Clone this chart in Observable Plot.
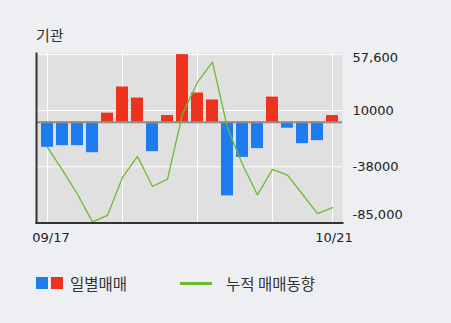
<!DOCTYPE html>
<html>
<head>
<meta charset="utf-8">
<script src="https://cdn.jsdelivr.net/npm/d3@7"></script>
<script src="https://cdn.jsdelivr.net/npm/@observablehq/plot@0.6"></script>
<style>
  html, body { margin: 0; padding: 0; background: #eeeff3; }
  #wrap { position: relative; width: 451px; height: 323px; background: #eeeff3; overflow: hidden; }
  #title { position: absolute; left: 36px; top: 25px; font: 15px "Noto Sans CJK KR", sans-serif; color: #333; line-height: 20px; }
  #chart { position: absolute; left: 0; top: 0; }
  #legend { position: absolute; left: 0; top: 273px; width: 451px; height: 20px; font: 15.5px "Noto Sans CJK KR", sans-serif; color: #333; }
  .sw { position: absolute; top: 4px; width: 12px; height: 12px; }
  .lt { position: absolute; top: 0; line-height: 20px; }
  .ln { position: absolute; top: 9px; width: 32px; height: 3px; }
</style>
</head>
<body>
<div id="wrap">
  <div id="title">기관</div>
  <div id="chart"></div>
  <div id="legend"></div>
</div>
<script>
const titleText = "기관";
const dates = ["09/17","09/23","09/24","09/27","09/28","09/29","09/30","10/01","10/05","10/06",
               "10/07","10/08","10/12","10/13","10/14","10/15","10/18","10/19","10/20","10/21"];
const daily = [-21400,-20000,-20000,-26000,7700,30000,20600,-25100,5700,57600,
               24900,18900,-62800,-30000,-22500,21400,-5100,-18300,-15700,5700];
const cumulative = [-21400,-40800,-61400,-85000,-79400,-47100,-29100,-54800,-48500,7000,
                    34100,51200,-5000,-36000,-62000,-40200,-45100,-61400,-78000,-72800];
const yTickValues = [57600, 10000, -38000, -85000];
const yTickLabels = ["57,600", "10000", "-38000", "-85,000"];
const gridValues = [57600, 10000, -38000];
const gridDates = ["09/17","09/29","10/07","10/15","10/21"];
const xTickLabels = ["09/17", "10/21"];
const legendLabels = ["일별매매", "누적 매매동향"];

const RED = "#ee321e", BLUE = "#1f7cee", GREEN = "#6cbb30";

const rows = dates.map((d, i) => ({date: d, daily: daily[i], cum: cumulative[i]}));
const yt = yTickValues.map((v, i) => ({v, label: yTickLabels[i]}));

const chart = Plot.plot({
  width: 451,
  height: 260,
  marginLeft: 36,
  marginRight: 109,
  marginTop: 53,
  marginBottom: 37.4,
  style: {background: "transparent", fontFamily: "DejaVu Sans, sans-serif", fontSize: "13px", color: "#222"},
  x: {type: "band", domain: dates, paddingInner: 0.18, paddingOuter: 0.29, align: 0.58, axis: null},
  y: {domain: [-86000, 58570], axis: null},
  marks: [
    Plot.frame({fill: "#e0e0e0", stroke: null}),
    Plot.ruleY(gridValues, {stroke: "white", strokeWidth: 1}),
    Plot.ruleX(gridDates, {stroke: "white", strokeWidth: 1}),
    Plot.barY(rows, {x: "date", y: "daily", fill: d => d.daily >= 0 ? RED : BLUE}),
    Plot.ruleY([0], {stroke: "#8c8c8c", strokeWidth: 2}),
    Plot.line(rows, {x: "date", y: "cum", stroke: GREEN, strokeWidth: 1.3}),
    Plot.frame({anchor: "left", stroke: "#333", strokeWidth: 2}),
    Plot.frame({anchor: "bottom", stroke: "#333", strokeWidth: 2}),
    Plot.text(yt.slice(0, 1), {y: "v", text: "label", frameAnchor: "right", textAnchor: "start", dx: 10, dy: 3, fill: "#222", fontSize: 13}),
    Plot.text(yt.slice(1, 3), {y: "v", text: "label", frameAnchor: "right", textAnchor: "start", dx: 10, dy: 0.5, fill: "#222", fontSize: 13}),
    Plot.text(yt.slice(3), {y: "v", text: "label", frameAnchor: "right", textAnchor: "start", dx: 10, dy: -7, fill: "#222", fontSize: 13}),
    Plot.text(xTickLabels.slice(0, 1), {x: d => d, text: d => d, frameAnchor: "bottom", dy: 19, dx: 3.5, fill: "#222", fontSize: 13}),
    Plot.text(xTickLabels.slice(1), {x: d => d, text: d => d, frameAnchor: "bottom", dy: 19, dx: 1.5, fill: "#222", fontSize: 13})
  ]
});
document.getElementById("chart").appendChild(chart);
document.getElementById("title").textContent = titleText;

const lg = document.getElementById("legend");
lg.innerHTML =
  `<div class="sw" style="left:36px;background:${BLUE}"></div>` +
  `<div class="sw" style="left:51px;background:${RED}"></div>` +
  `<div class="lt" style="left:70px">${legendLabels[0]}</div>` +
  `<div class="ln" style="left:180px;background:${GREEN}"></div>` +
  `<div class="lt" style="left:226px">${legendLabels[1]}</div>`;
</script>
</body>
</html>
